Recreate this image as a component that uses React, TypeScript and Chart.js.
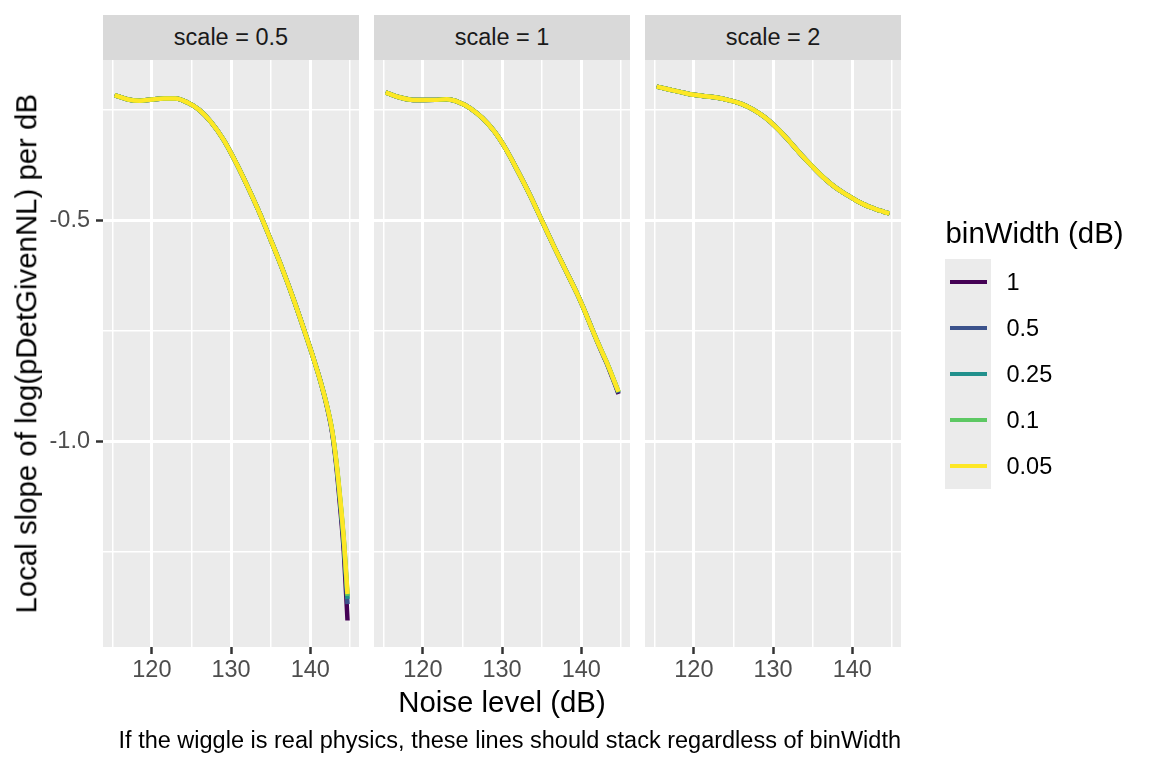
import { useEffect, useRef } from "react"
import { Chart, registerables } from "chart.js"

Chart.register(...registerables)

// ---- data ----
const noiseLevels = [
  115.3, 117, 118.5, 120, 121.5, 123, 124.5, 126, 127.5, 129, 130.5, 132,
  133.5, 135, 136.5, 138, 139.5, 140.5, 141.25, 142, 142.75, 143.25, 143.75,
  144.25, 144.7,
]
const scaleLabels = ["0.5", "1", "2"]
const binWidths = ["1", "0.5", "0.25", "0.1", "0.05"]
const binColors = ["#440154", "#3B528B", "#21908C", "#5DC863", "#FDE725"]

// all binWidths overlap up to ~140.5 dB, so the first 18 points are shared
const headScale05 = [-0.216, -0.226, -0.229, -0.226, -0.224, -0.224, -0.233, -0.25, -0.278, -0.316, -0.365, -0.42, -0.479, -0.544, -0.611, -0.684, -0.763, -0.818]
const headScale1 = [-0.21, -0.221, -0.2265, -0.2273, -0.227, -0.2258, -0.232, -0.246, -0.268, -0.298, -0.339, -0.389, -0.442, -0.4995, -0.557, -0.612, -0.667, -0.708]
const headScale2 = [-0.197, -0.204, -0.21, -0.2155, -0.219, -0.222, -0.228, -0.236, -0.249, -0.267, -0.291, -0.3195, -0.35, -0.3785, -0.405, -0.427, -0.444, -0.455]

// last 7 points (141.25 .. 144.7 dB), one row per binWidth
const tailScale05 = [
  [-0.862, -0.914, -0.98, -1.05, -1.145, -1.255, -1.406],
  [-0.862, -0.913, -0.977, -1.045, -1.135, -1.24, -1.369],
  [-0.862, -0.912, -0.976, -1.042, -1.13, -1.232, -1.357],
  [-0.862, -0.912, -0.975, -1.041, -1.127, -1.228, -1.35],
  [-0.862, -0.912, -0.975, -1.04, -1.125, -1.225, -1.346],
]
const tailScale1 = [
  [-0.741, -0.774, -0.805, -0.825, -0.848, -0.871, -0.893],
  [-0.741, -0.773, -0.804, -0.824, -0.846, -0.869, -0.891],
  [-0.741, -0.773, -0.803, -0.823, -0.845, -0.868, -0.889],
  [-0.741, -0.773, -0.803, -0.823, -0.845, -0.868, -0.888],
  [-0.741, -0.773, -0.803, -0.823, -0.845, -0.868, -0.888],
]
const tailScale2 = [
  [-0.462, -0.468, -0.473, -0.4765, -0.479, -0.482, -0.484],
  [-0.462, -0.468, -0.473, -0.4765, -0.479, -0.482, -0.484],
  [-0.462, -0.468, -0.473, -0.4765, -0.479, -0.482, -0.484],
  [-0.462, -0.468, -0.473, -0.4765, -0.479, -0.482, -0.484],
  [-0.462, -0.468, -0.473, -0.4765, -0.479, -0.482, -0.484],
]

const heads = [headScale05, headScale1, headScale2]
const tails = [tailScale05, tailScale1, tailScale2]

const xGridValues = [115, 120, 125, 130, 135, 140, 145]
const xTickLabels = [120, 130, 140]
const yGridValues = [-1.25, -1.0, -0.75, -0.5, -0.25]
const yTickLabels = [-1.0, -0.5]
const xRange = [113.83, 146.15]
const yRange = [-1.466, -0.1367]

// ---- layout ----
const W = 1152
const H = 768
const panelLefts = [103, 374, 645]
const panelWidth = 256
const panelTop = 60
const panelBottom = 647
const FONT = "'Liberation Sans', Arial, Helvetica, sans-serif"

const near = (a: number, list: number[]) => list.some((v) => Math.abs(v - a) < 1e-6)

const panelBackground = {
  id: "panelBackground",
  beforeDraw(chart: any) {
    const { ctx, chartArea } = chart
    ctx.save()
    ctx.fillStyle = "#EBEBEB"
    ctx.fillRect(chartArea.left, chartArea.top, chartArea.right - chartArea.left, chartArea.bottom - chartArea.top)
    ctx.restore()
  },
}

function FacetPanel({ index }: { index: number }) {
  const canvasRef = useRef<HTMLCanvasElement | null>(null)
  const chartRef = useRef<Chart | null>(null)

  useEffect(() => {
    if (!canvasRef.current) return
    const ctx = canvasRef.current.getContext("2d")
    if (!ctx) return
    if (chartRef.current) chartRef.current.destroy()

    const showY = index === 0
    const yAxisWidth = showY ? 63 : 0
    const xAxisHeight = 60
    const left = panelLefts[index]

    const datasets = binWidths.map((bw, i) => {
      const ys = [...heads[index], ...tails[index][i]]
      return {
        label: bw,
        data: noiseLevels.map((x, j) => ({ x, y: ys[j] })),
        borderColor: binColors[i],
        backgroundColor: binColors[i],
        borderWidth: 4.5,
        pointRadius: 0,
        fill: false,
        cubicInterpolationMode: "monotone" as const,
        order: binWidths.length - 1 - i, // yellow (0.05) on top
      }
    })

    chartRef.current = new Chart(ctx, {
      type: "line",
      data: { datasets },
      options: {
        animation: false,
        responsive: false,
        events: [],
        layout: {
          padding: {
            left: left - yAxisWidth,
            right: W - (left + panelWidth),
            top: panelTop,
            bottom: H - panelBottom - xAxisHeight,
          },
        },
        plugins: {
          legend: { display: false },
          tooltip: { enabled: false },
        },
        scales: {
          x: {
            type: "linear",
            min: xRange[0],
            max: xRange[1],
            afterBuildTicks: (axis: any) => {
              axis.ticks = xGridValues.map((v) => ({ value: v }))
            },
            afterFit: (axis: any) => {
              axis.height = xAxisHeight
            },
            border: { display: false },
            grid: {
              color: "#FFFFFF",
              lineWidth: (c: any) => (near(c.tick?.value, xTickLabels) ? 3 : 1.5),
              drawTicks: true,
              tickLength: 7,
              tickWidth: 2.5,
              tickColor: (c: any) => (near(c.tick?.value, xTickLabels) ? "#333333" : "rgba(0,0,0,0)"),
            },
            ticks: {
              autoSkip: false,
              maxRotation: 0,
              padding: 2,
              color: "#4D4D4D",
              font: { family: FONT, size: 23.5 },
              callback: (v: any) => (near(Number(v), xTickLabels) ? String(v) : ""),
            },
          },
          y: {
            type: "linear",
            min: yRange[0],
            max: yRange[1],
            afterBuildTicks: (axis: any) => {
              axis.ticks = yGridValues.map((v) => ({ value: v }))
            },
            afterFit: (axis: any) => {
              axis.width = yAxisWidth
            },
            border: { display: false },
            grid: {
              color: "#FFFFFF",
              lineWidth: (c: any) => (near(c.tick?.value, yTickLabels) ? 3 : 1.5),
              drawTicks: showY,
              tickLength: 7,
              tickWidth: 2.5,
              tickColor: (c: any) => (near(c.tick?.value, yTickLabels) ? "#333333" : "rgba(0,0,0,0)"),
            },
            ticks: {
              display: showY,
              autoSkip: false,
              padding: 6,
              color: "#4D4D4D",
              font: { family: FONT, size: 23.5 },
              callback: (v: any) => (near(Number(v), yTickLabels) ? Number(v).toFixed(1) : ""),
            },
          },
        },
      },
      plugins: [panelBackground],
    })

    return () => {
      if (chartRef.current) {
        chartRef.current.destroy()
        chartRef.current = null
      }
    }
  }, [index])

  return (
    <canvas
      ref={canvasRef}
      width={W}
      height={H}
      style={{ position: "absolute", left: 0, top: 0, width: W, height: H, pointerEvents: "none" }}
    />
  )
}

export default function App() {
  const text = { position: "absolute" as const, fontFamily: FONT, whiteSpace: "nowrap" as const, lineHeight: 1 }
  return (
    <div style={{ position: "absolute", left: 0, top: 0, width: W, height: H, background: "#FFFFFF", overflow: "hidden" }}>
      {scaleLabels.map((s, i) => (
        <div
          key={s}
          style={{
            ...text,
            left: panelLefts[i],
            top: 15,
            width: panelWidth,
            height: 45,
            lineHeight: "45px",
            background: "#D9D9D9",
            color: "#1A1A1A",
            fontSize: 23.5,
            textAlign: "center",
          }}
        >
          scale = {s}
        </div>
      ))}

      {scaleLabels.map((s, i) => (
        <FacetPanel key={s} index={i} />
      ))}

      <div
        style={{
          ...text,
          left: 26 - 350,
          top: 353.5 - 14.7,
          width: 700,
          height: 29.4,
          lineHeight: "29.4px",
          fontSize: 29.4,
          color: "#000000",
          textAlign: "center",
          transform: "rotate(-90deg)",
        }}
      >
        Local slope of log(pDetGivenNL) per dB
      </div>

      <div style={{ ...text, left: 202, width: 600, top: 687, fontSize: 29.4, color: "#000000", textAlign: "center" }}>
        Noise level (dB)
      </div>

      <div style={{ ...text, left: 101, width: 800, top: 729, fontSize: 23.5, color: "#000000", textAlign: "right" }}>
        If the wiggle is real physics, these lines should stack regardless of binWidth
      </div>

      <div style={{ ...text, left: 945.5, top: 218, fontSize: 29.4, color: "#000000" }}>binWidth (dB)</div>
      <div style={{ position: "absolute", left: 945, top: 259.3, width: 46, height: 230, background: "#EBEBEB" }} />
      {binWidths.map((bw, i) => (
        <div key={bw}>
          <div
            style={{
              position: "absolute",
              left: 949.5,
              top: 259.3 + i * 46 + 23 - 2,
              width: 37,
              height: 4,
              background: binColors[i],
            }}
          />
          <div
            style={{
              ...text,
              left: 1006.5,
              top: 259.3 + i * 46,
              height: 46,
              lineHeight: "46px",
              fontSize: 23.5,
              color: "#000000",
            }}
          >
            {bw}
          </div>
        </div>
      ))}
    </div>
  )
}
